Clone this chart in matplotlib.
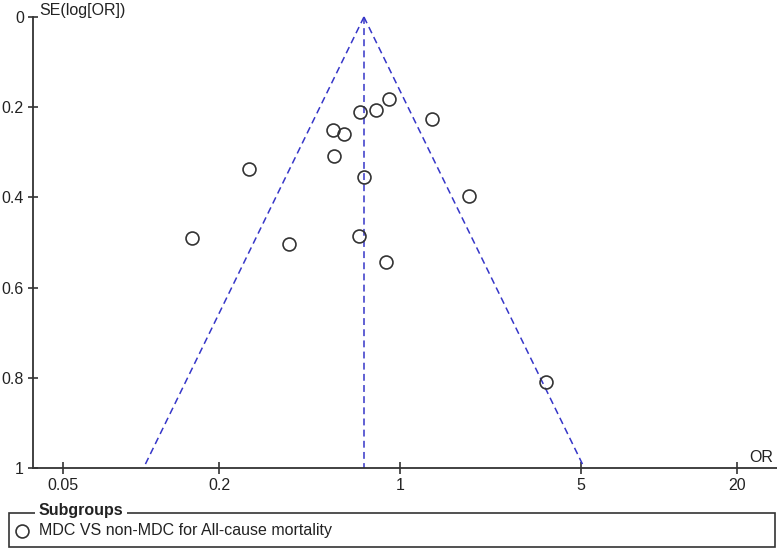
import numpy as np
import matplotlib
matplotlib.use("Agg")
import matplotlib.pyplot as plt
from matplotlib.patches import Rectangle
from matplotlib.lines import Line2D

plt.rcParams['font.family'] = ['Liberation Sans', 'DejaVu Sans']

# ---- data ----
odds_ratio = [0.157, 0.262, 0.372, 0.550, 0.608, 0.557, 0.701, 0.808,
              0.909, 1.333, 0.728, 1.847, 0.693, 0.881, 3.65]
se_log_or = [0.489, 0.338, 0.504, 0.251, 0.259, 0.308, 0.211, 0.206,
             0.182, 0.227, 0.355, 0.397, 0.486, 0.543, 0.809]
pooled_or = 0.726
x_ticks = [0.05, 0.2, 1, 5, 20]
x_tick_labels = ["0.05", "0.2", "1", "5", "20"]
y_ticks = [0, 0.2, 0.4, 0.6, 0.8, 1]
y_tick_labels = ["0", "0.2", "0.4", "0.6", "0.8", "1"]
legend_title = "Subgroups"
legend_label = "MDC VS non-MDC for All-cause mortality"

W, H = 777, 551
FS = 11.5
fig = plt.figure(figsize=(W / 100, H / 100), dpi=100)
fig.patch.set_facecolor('white')

def fx(px):
    return px / W

def fy(py):
    return 1 - py / H

ax = fig.add_axes([fx(33), fy(468), fx(777) - fx(33), fy(17) - fy(468)])
ax.set_xscale('log')
ax.set_xlim(10 ** -1.417, 10 ** 1.456)
ax.set_ylim(1, 0)

for s in ['top', 'right']:
    ax.spines[s].set_visible(False)
for s in ['left', 'bottom']:
    ax.spines[s].set_color('#333333')
    ax.spines[s].set_linewidth(1.3)

ax.set_xticks(x_ticks)
ax.set_xticklabels(x_tick_labels)
ax.xaxis.set_minor_locator(matplotlib.ticker.NullLocator())
ax.set_yticks(y_ticks)
ax.set_yticklabels(y_tick_labels)
ax.tick_params(axis='x', direction='inout', length=9, width=1.2, color='#333333',
               labelsize=FS, pad=3, labelcolor='#222222')
ax.tick_params(axis='y', direction='inout', length=7, width=1.2, color='#333333',
               labelsize=FS, pad=3, labelcolor='#222222')

# funnel lines
blue = '#3636c8'
se_range = np.array([0.0, 1.0])
lo = np.exp(np.log(pooled_or) - 1.96 * se_range)
hi = np.exp(np.log(pooled_or) + 1.96 * se_range)
dash = (0, (4.5, 2.8))
ax.plot(lo, se_range, color=blue, lw=1.1, ls=dash, clip_on=False, zorder=2)
ax.plot(hi, se_range, color=blue, lw=1.1, ls=dash, clip_on=False, zorder=2)
ax.plot([pooled_or, pooled_or], se_range, color=blue, lw=1.1, ls=dash,
        clip_on=False, zorder=2)

ax.plot(odds_ratio, se_log_or, ls='none', marker='o', ms=9.3, mfc='none',
        mec='#333333', mew=1.2, zorder=3, clip_on=False)

# axis titles
fig.text(fx(39), fy(10), "SE(log[OR])", fontsize=FS, ha='left', va='center',
         color='#222222')
fig.text(fx(773), fy(457), "OR", fontsize=FS, ha='right', va='center',
         color='#222222')

# legend box
rect = Rectangle((fx(9), fy(547)), fx(775) - fx(9), fy(513) - fy(547),
                 transform=fig.transFigure, fill=False, edgecolor='#333333',
                 lw=1.2, zorder=2)
fig.add_artist(rect)
fig.text(fx(39), fy(511), legend_title, fontsize=FS, fontweight='bold',
         ha='left', va='center', color='#222222', zorder=3,
         bbox=dict(facecolor='white', edgecolor='none', pad=2.5))
fig.add_artist(Line2D([fx(22)], [fy(531)], transform=fig.transFigure,
                      marker='o', ms=9.3, mfc='none', mec='#333333', mew=1.2,
                      ls='none'))
fig.text(fx(39), fy(531), legend_label, fontsize=FS, ha='left', va='center',
         color='#222222')

fig.savefig('out.png', dpi=100, facecolor='white')
